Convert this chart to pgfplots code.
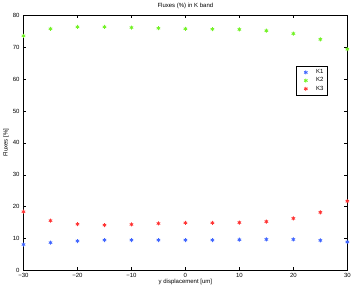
\documentclass[border=0pt]{standalone}
\usepackage{fontspec}
\setmainfont{Liberation Sans}
\usepackage{pgfplots}
\pgfplotsset{compat=1.18}
\definecolor{kone}{rgb}{0.25,0.4,1}
\definecolor{ktwo}{rgb}{0.45,0.95,0.15}
\definecolor{kthree}{rgb}{1,0.2,0.2}
\pgfplotsset{myleg/.style={legend image code/.code={\path (0pt,0pt) (16pt,0pt); \draw[##1,mark repeat=2,mark phase=2] plot coordinates {(0pt,0pt)(8pt,0pt)(16pt,0pt)};}}}
\begin{document}
\begin{tikzpicture}
\begin{axis}[
  scale only axis,
  width=324pt, height=255pt,
  xmin=-30, xmax=30, ymin=0, ymax=80,
  xtick={-30,-20,...,30}, ytick={0,10,...,80},
  xticklabels={−30,−20,−10,0,10,20,30},
  tick align=inside, tick pos=both,
  major tick length=3pt,
  axis line style={black, line width=0.5pt},
  every tick/.style={black, line width=0.4pt},
  tick label style={font=\fontsize{6}{7}\selectfont},
  /pgf/number format/assume math mode=true,
  xticklabel style={yshift=1pt},
  yticklabel style={xshift=-0.5pt},
  title={Fluxes (\%) in K band},
  title style={font=\fontsize{6}{7}\selectfont, yshift=-3pt},
  xlabel={y displacement [um]},
  ylabel={Fluxes [\%]},
  label style={font=\fontsize{6}{7}\selectfont},
  xlabel style={yshift=5pt},
  ylabel style={yshift=-3pt},
  legend style={at={(0.938,0.802)}, anchor=north east, font=\fontsize{6}{7}\selectfont, draw=black, line width=0.4pt, inner sep=1.5pt, row sep=-1.5pt},
  legend cell align=left,
  mark size=2pt,
]
\addplot[only marks, myleg, mark=asterisk, kone, line width=0.8pt] coordinates {
(-30,8.1) (-25,8.7) (-20,9.2) (-15,9.5) (-10,9.5) (-5,9.5) (0,9.5) (5,9.5) (10,9.6) (15,9.7) (20,9.7) (25,9.4) (30,8.9)};
\addlegendentry{K1}
\addplot[only marks, myleg, mark=asterisk, ktwo, line width=0.8pt] coordinates {
(-30,73.6) (-25,75.8) (-20,76.4) (-15,76.4) (-10,76.2) (-5,76.0) (0,75.8) (5,75.7) (10,75.6) (15,75.2) (20,74.3) (25,72.5) (30,69.4)};
\addlegendentry{K2}
\addplot[only marks, myleg, mark=asterisk, kthree, line width=0.8pt] coordinates {
(-30,18.4) (-25,15.6) (-20,14.5) (-15,14.2) (-10,14.4) (-5,14.7) (0,14.9) (5,14.9) (10,15.0) (15,15.3) (20,16.3) (25,18.2) (30,21.7)};
\addlegendentry{K3}
\end{axis}
\end{tikzpicture}
\end{document}
